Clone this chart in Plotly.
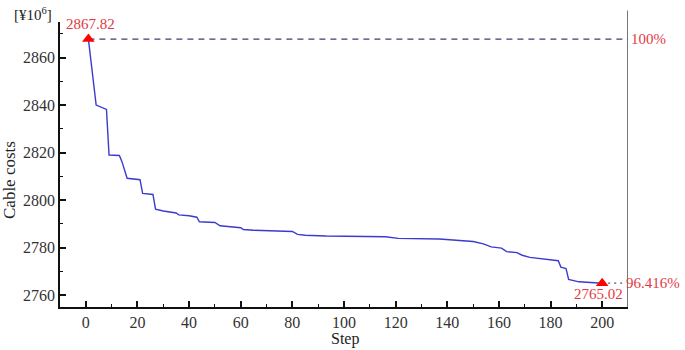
import plotly.graph_objects as go

# Data
steps = [1, 4, 8, 9, 13, 14, 16, 21, 22, 26, 27, 30, 35, 36, 40, 43, 44, 50, 52, 56,
         60, 61, 65, 80, 82, 85, 93, 116, 121, 137, 141, 145, 150, 154, 157, 161, 163,
         167, 169, 172, 176, 183, 184, 186, 187, 191, 200]
costs = [2867.82, 2840.0, 2838.2, 2819.0, 2818.8, 2816.2, 2809.2, 2808.6, 2802.8, 2802.4,
         2796.2, 2795.4, 2794.6, 2793.8, 2793.4, 2792.8, 2790.9, 2790.6, 2789.2, 2788.8,
         2788.4, 2787.6, 2787.3, 2786.8, 2785.6, 2785.2, 2784.9, 2784.6, 2783.9, 2783.6,
         2783.2, 2782.9, 2782.6, 2781.6, 2780.3, 2779.8, 2778.3, 2777.9, 2776.8, 2775.9,
         2775.4, 2774.5, 2771.8, 2771.2, 2766.6, 2765.6, 2765.02]

x_ticks = [0, 20, 40, 60, 80, 100, 120, 140, 160, 180, 200]
y_ticks = [2760, 2780, 2800, 2820, 2840, 2860]
x_range = [-10, 210]
y_range = [2755, 2875]

start_label = "2867.82"
end_label = "2765.02"
start_pct = "100%"
end_pct = "96.416%"

FONT = "Liberation Serif, Times New Roman, serif"
RED_TXT = "#e23a44"

fig = go.Figure()

# reference dashed line at start value
fig.add_trace(go.Scatter(
    x=[steps[0], x_range[1]], y=[costs[0], costs[0]], mode="lines",
    line=dict(color="#3d3d7a", width=1.3, dash="6px,5px"),
    hoverinfo="skip", showlegend=False))

# dotted connector at end value
fig.add_trace(go.Scatter(
    x=[steps[-1], x_range[1] - 1], y=[costs[-1], costs[-1]], mode="lines",
    line=dict(color="#555577", width=1.3, dash="2px,4px"),
    hoverinfo="skip", showlegend=False))

fig.add_trace(go.Scatter(
    x=steps, y=costs, mode="lines",
    line=dict(color="#3b3bcf", width=1.4),
    showlegend=False))

fig.add_trace(go.Scatter(
    x=[steps[0], steps[-1]], y=[costs[0], costs[-1]], mode="markers",
    marker=dict(symbol="triangle-up", size=11, color="#ff0000"),
    showlegend=False))

axis_common = dict(
    showgrid=False, zeroline=False, showline=True, linecolor="#111", linewidth=1.6,
    ticks="inside", ticklen=6, tickwidth=1.5, tickcolor="#111",
    tickfont=dict(family=FONT, size=16, color="#333"),
    minor=dict(ticks="inside", ticklen=3, tickwidth=1.3, tickcolor="#111", dtick=10),
    automargin=False,
)

fig.update_xaxes(range=x_range, tickvals=x_ticks, **axis_common)
fig.update_xaxes(minor=dict(tick0=-10, dtick=10))
fig.update_yaxes(range=y_range, tickvals=y_ticks, **axis_common)
fig.update_yaxes(minor=dict(tick0=2760, dtick=10))

# right frame line (extends slightly above the plot)
fig.add_shape(type="line", xref="x", yref="paper", x0=x_range[1], x1=x_range[1],
              y0=0, y1=1.04, line=dict(color="#555", width=1.6))

W, H = 685, 350
L, R, T, B = 60, 57, 22, 43
pw, ph = W - L - R, H - T - B


def px_to_paper(px, py):
    return (px - L) / pw, (H - B - py) / ph


ann = []
ann.append(dict(x=steps[0], y=costs[0], xref="x", yref="y", text=start_label,
                xanchor="center", yanchor="middle",
                showarrow=False, yshift=15, xshift=2, font=dict(family=FONT, size=15, color=RED_TXT)))
ann.append(dict(x=steps[-1], y=costs[-1], xref="x", yref="y", text=end_label,
                xanchor="center", yanchor="middle",
                showarrow=False, yshift=-11, xshift=-4, font=dict(family=FONT, size=15, color=RED_TXT)))
ann.append(dict(x=x_range[1], y=costs[0], xref="x", yref="y", text=start_pct,
                xanchor="left", yanchor="middle",
                showarrow=False, xshift=1, font=dict(family=FONT, size=15, color=RED_TXT)))
ann.append(dict(x=x_range[1], y=costs[-1], xref="x", yref="y", text=end_pct,
                xanchor="left", yanchor="middle",
                showarrow=False, xshift=-4, font=dict(family=FONT, size=15, color=RED_TXT)))

ax, ay = px_to_paper(33, 14)
ann.append(dict(x=ax, y=ay, xref="paper", yref="paper", text="[¥10<sup>6</sup>]",
                xanchor="center", yanchor="middle",
                showarrow=False, font=dict(family=FONT, size=15, color="#222")))
sx, sy = px_to_paper(345, 339)
ann.append(dict(x=sx, y=sy, xref="paper", yref="paper", text="Step", showarrow=False,
                xanchor="center", yanchor="middle",
                font=dict(family=FONT, size=16, color="#222")))
cx, cy = px_to_paper(10, 180)
ann.append(dict(x=cx, y=cy, xref="paper", yref="paper", text="Cable costs", showarrow=False,
                xanchor="center", yanchor="middle",
                textangle=-90, font=dict(family=FONT, size=17, color="#222")))

fig.update_layout(
    width=W, height=H, margin=dict(l=L, r=R, t=T, b=B),
    plot_bgcolor="white", paper_bgcolor="white",
    annotations=ann, showlegend=False,
)

fig.write_html("out.html", config={"displayModeBar": False},
               post_script="document.body.style.margin='0';")
